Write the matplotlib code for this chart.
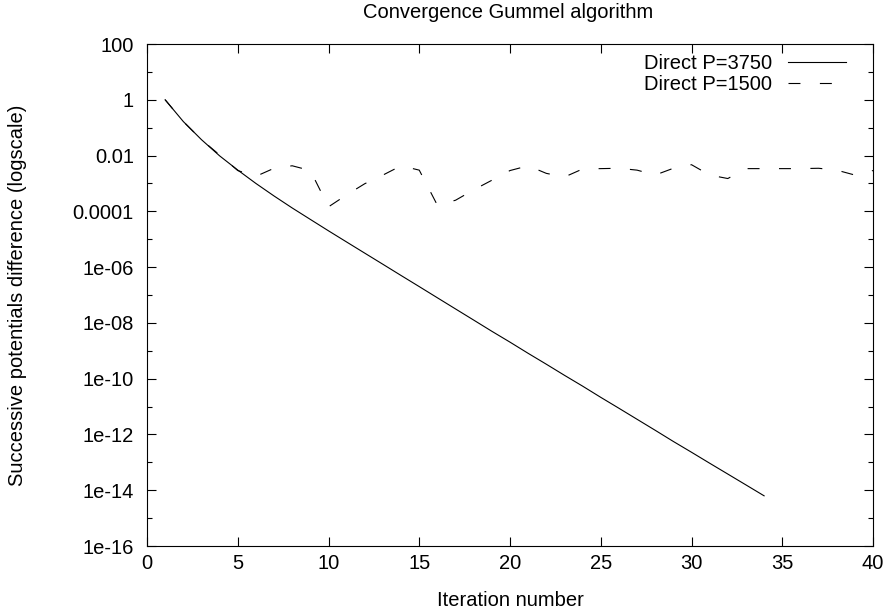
import matplotlib
matplotlib.use("Agg")
import matplotlib.pyplot as plt
from matplotlib.ticker import FixedLocator, FuncFormatter, NullFormatter

plt.rcParams['font.family'] = ['Liberation Sans', 'DejaVu Sans']
plt.rcParams['lines.scale_dashes'] = False

title = "Convergence Gummel algorithm"
xlabel = "Iteration number"
ylabel = "Successive potentials difference (logscale)"

iter_3750 = list(range(1, 35))
diff_3750 = [1.0, 0.166, 0.0372, 0.00977, 0.00302, 1.0e-3, 3.55e-4, 1.32e-4, 5.13e-5, 2.0e-5,
             7.94e-6, 3.16e-6, 1.26e-6, 5.0e-7, 2.0e-7, 7.94e-8, 3.16e-8, 1.26e-8, 5.0e-9, 2.04e-9,
             8.1e-10, 3.3e-10, 1.32e-10, 5.4e-11, 2.14e-11, 8.7e-12, 3.5e-12, 1.41e-12, 5.6e-13, 2.3e-13,
             9.3e-14, 3.8e-14, 1.55e-14, 6.3e-15]

iter_1500 = list(range(1, 41))
diff_1500 = [1.0, 0.166, 0.037, 0.0105, 0.0029, 1.8e-3, 3.5e-3, 4.3e-3, 2.9e-3, 1.45e-4,
             3.9e-4, 9.8e-4, 2.0e-3, 4.3e-3, 3.0e-3, 1.65e-4, 2.5e-4, 5.9e-4, 1.3e-3, 2.9e-3,
             4.3e-3, 2.3e-3, 1.7e-3, 3.3e-3, 3.4e-3, 3.5e-3, 3.0e-3, 2.0e-3, 3.5e-3, 4.7e-3,
             2.0e-3, 1.5e-3, 3.4e-3, 3.4e-3, 3.4e-3, 3.4e-3, 3.5e-3, 3.0e-3, 2.0e-3, 2.9e-3]

labels = ["Direct P=3750", "Direct P=1500"]

x_ticks = [0, 5, 10, 15, 20, 25, 30, 35, 40]
y_major = [1e2, 1e0, 1e-2, 1e-4, 1e-6, 1e-8, 1e-10, 1e-12, 1e-14, 1e-16]
y_tick_labels = ["100", "1", "0.01", "0.0001", "1e-06", "1e-08", "1e-10", "1e-12", "1e-14", "1e-16"]
y_minor = [1e1, 1e-1, 1e-3, 1e-5, 1e-7, 1e-9, 1e-11, 1e-13, 1e-15]

FS = 14.5

fig = plt.figure(figsize=(8.91, 6.15), dpi=100)
ax = fig.add_axes([147/891, 69/615, 726/891, 502/615])

ax.plot(iter_3750, diff_3750, color='black', lw=0.8, label=labels[0])
ax.plot(iter_1500, diff_1500, color='black', lw=0.8, dashes=(8.6, 14.0), label=labels[1])

ax.set_yscale('log')
ax.set_xlim(0, 40)
ax.set_ylim(1e-16, 1e2)
ax.set_xticks(x_ticks)
ax.set_xticklabels([str(t) for t in x_ticks])
ax.yaxis.set_major_locator(FixedLocator(y_major))
ax.yaxis.set_major_formatter(FuncFormatter(lambda v, p: y_tick_labels[y_major.index(min(y_major, key=lambda m: abs(m - v) / m))]))
ax.yaxis.set_minor_locator(FixedLocator(y_minor))
ax.yaxis.set_minor_formatter(NullFormatter())

ax.tick_params(which='both', direction='in', top=True, right=True, labelsize=FS, width=0.8, colors='black')
ax.tick_params(which='major', length=6.5)
ax.tick_params(which='minor', length=3.5)
ax.tick_params(axis='x', which='major', pad=5.5)
ax.tick_params(axis='y', which='major', pad=9.4)
for s in ax.spines.values():
    s.set_linewidth(0.8)

fig.text(508/891, 1 - 13/615, title, fontsize=FS, ha='center', va='center')
fig.text(510/891, 1 - 600/615, xlabel, fontsize=FS, ha='center', va='center')
fig.text(18/891, 1 - 295/615, ylabel, fontsize=FS, ha='center', va='center', rotation=90)

ax.legend(loc='upper right', bbox_to_anchor=(1 - 27/726, 1 - 10/502), frameon=False,
          markerfirst=False, handlelength=2.9, handletextpad=0.75, labelspacing=0.1,
          fontsize=FS, borderaxespad=0, borderpad=0)

fig.savefig("out.png", dpi=100)
